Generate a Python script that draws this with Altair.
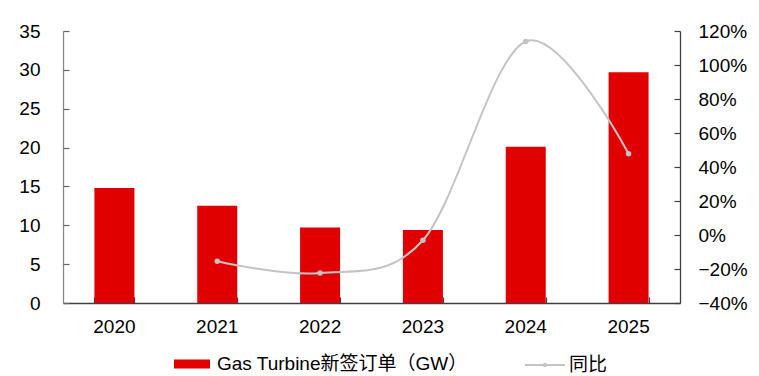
import altair as alt
import pandas as pd

years = ["2020", "2021", "2022", "2023", "2024", "2025"]
orders = [14.8, 12.5, 9.7, 9.4, 20.1, 29.7]
yoy = [None, -0.155, -0.224, -0.031, 1.138, 0.478]
bar_name = "Gas Turbine新签订单（GW）"
line_name = "同比"
left_ticks = [0, 5, 10, 15, 20, 25, 30, 35]
right_ticks = [-0.4, -0.2, 0.0, 0.2, 0.4, 0.6, 0.8, 1.0, 1.2]

df = pd.DataFrame({"year": years, "orders": orders, "yoy": yoy,
                   "s1": bar_name, "s2": line_name})
line_df = df[df["yoy"].notna()]

FONT = "Liberation Sans, Arial, Noto Sans CJK SC"
FS = 19
RED = "#E00000"
GRAY = "#C4C4C4"
W, H = 617, 272

xscale = alt.Scale(paddingInner=0.61, paddingOuter=0.305)
lscale = alt.Scale(domain=[0, 35], nice=False)
rscale = alt.Scale(domain=[-0.4, 1.2], nice=False)

# bars with left axis and bottom axis labels
bars = alt.Chart(df).mark_bar(size=40).encode(
    x=alt.X("year:N", title=None, sort=years, scale=xscale,
            axis=alt.Axis(orient="bottom", labelAngle=0, labelFontSize=FS, labelFont=FONT,
                          labelColor="#000", labelPadding=14, ticks=False,
                          domainColor="#404040", domainWidth=1.3, grid=False)),
    y=alt.Y("orders:Q", title=None, scale=lscale,
            axis=alt.Axis(orient="left", values=left_ticks, labelFontSize=FS, labelFont=FONT,
                          labelColor="#000", labelPadding=23, ticks=False,
                          domainColor="#888888", domainWidth=1.3, grid=False)),
    color=alt.Color("s1:N", scale=alt.Scale(domain=[bar_name], range=[RED]),
                    legend=alt.Legend(title=None, orient="none", legendX=111, legendY=315,
                                      padding=0, symbolType="M-1,-0.25H1V0.25H-1Z",
                                      symbolSize=1296, symbolStrokeWidth=0,
                                      labelFont=FONT, labelFontSize=FS, labelColor="#000",
                                      labelOffset=7, labelLimit=400)),
)

# inward ticks: left axis ticks + bottom axis ticks (axes moved into the plot)
ticks_left = alt.Chart(df).mark_bar(opacity=0).encode(
    x=alt.X("year:N", title=None, sort=years, scale=xscale,
            axis=alt.Axis(orient="top", offset=-H, labels=False, domain=False, ticks=True,
                          tickSize=6, tickBand="extent", tickColor="#404040", tickWidth=1.2,
                          grid=False)),
    y=alt.Y("orders:Q", title=None, scale=lscale,
            axis=alt.Axis(orient="right", offset=-W, values=left_ticks, labels=False,
                          domain=False, ticks=True, tickSize=6, tickColor="#666666",
                          tickWidth=1.2, grid=False)),
)

ticks_right = alt.Chart(line_df).mark_point(opacity=0).encode(
    x=alt.X("year:N", sort=years, scale=xscale, axis=None),
    y=alt.Y("yoy:Q", title=None, scale=rscale,
            axis=alt.Axis(orient="left", offset=-W, values=right_ticks, labels=False,
                          domain=False, ticks=True, tickSize=6, tickColor="#404040",
                          tickWidth=1.2, grid=False)),
)

line = alt.Chart(line_df).mark_line(interpolate="cardinal", strokeWidth=2).encode(
    x=alt.X("year:N", sort=years, scale=xscale, axis=None),
    y=alt.Y("yoy:Q", title=None, scale=rscale,
            axis=alt.Axis(orient="right", values=right_ticks, format=".0%", labelFontSize=FS,
                          labelFont=FONT, labelColor="#000", labelPadding=18, ticks=False,
                          domainColor="#404040", domainWidth=1.3, grid=False)),
    stroke=alt.Stroke("s2:N", scale=alt.Scale(domain=[line_name], range=[GRAY]),
                      legend=alt.Legend(title=None, orient="none", legendX=461, legendY=313,
                                        padding=0,
                                        symbolType="M-1,0H1M-0.06,0A0.06,0.06 0 1,0 0.06,0A0.06,0.06 0 1,0 -0.06,0Z",
                                        symbolSize=1600, symbolStrokeWidth=2,
                                        labelFont=FONT, labelFontSize=FS, labelColor="#000",
                                        labelOffset=3, labelLimit=200)),
)

pts = alt.Chart(line_df).mark_circle(size=30, color=GRAY, opacity=1).encode(
    x=alt.X("year:N", sort=years, scale=xscale, axis=None),
    y=alt.Y("yoy:Q", axis=None, scale=rscale),
)

chart = alt.layer(bars, ticks_left, line, pts, ticks_right).resolve_scale(
    y="independent"
).resolve_axis(x="independent", y="independent").properties(
    width=W, height=H,
    background="white",
    autosize=alt.AutoSizeParams(type="none"),
    padding={"left": 63, "top": 31, "right": 79, "bottom": 73},
).configure_view(stroke=None)

chart.save("out.html", embed_options={"renderer": "svg", "actions": False})
